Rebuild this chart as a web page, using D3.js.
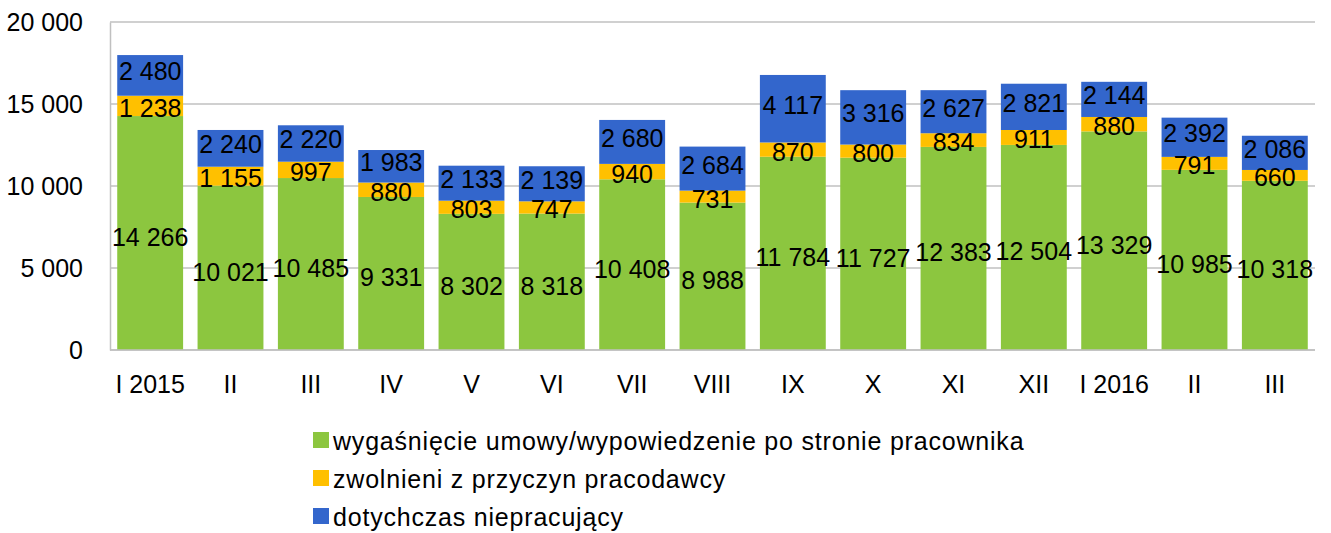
<!DOCTYPE html>
<html>
<head>
<meta charset="utf-8">
<script src="https://cdn.jsdelivr.net/npm/d3@7"></script>
<style>
  html, body { margin: 0; padding: 0; background: #fff; }
  svg { display: block; font-family: "Liberation Sans", Arial, sans-serif; }
</style>
</head>
<body>
<svg id="chart" width="1331" height="533"></svg>
<script>
const categories = ["I 2015", "II", "III", "IV", "V", "VI", "VII", "VIII", "IX", "X", "XI", "XII", "I 2016", "II", "III"];
const wygasniecie = [14266, 10021, 10485, 9331, 8302, 8318, 10408, 8988, 11784, 11727, 12383, 12504, 13329, 10985, 10318];
const zwolnieni = [1238, 1155, 997, 880, 803, 747, 940, 731, 870, 800, 834, 911, 880, 791, 660];
const dotychczas = [2480, 2240, 2220, 1983, 2133, 2139, 2680, 2684, 4117, 3316, 2627, 2821, 2144, 2392, 2086];
const yTicks = [0, 5000, 10000, 15000, 20000];
const seriesNames = ["wygaśnięcie umowy/wypowiedzenie po stronie pracownika", "zwolnieni z przyczyn pracodawcy", "dotychczas niepracujący"];
const seriesColors = ["#8cc63f", "#ffc000", "#3366cc"];

const svg = d3.select("#chart");
const mLeft = 110, mRight = 1315, mTop = 22, mBottom = 350;
const FS = 25;
const labelShift = [4, 2, -4];

const fmt = v => d3.format(",")(v).replace(/,/g, " ");

const x = d3.scaleBand().domain(d3.range(categories.length)).range([mLeft, mRight]).paddingInner(0.18).paddingOuter(0.09);
const y = d3.scaleLinear().domain([0, 20000]).range([mBottom, mTop]);

// gridlines
svg.append("g").selectAll("line").data(yTicks).join("line")
  .attr("x1", mLeft).attr("x2", mRight)
  .attr("y1", d => y(d)).attr("y2", d => y(d))
  .attr("stroke", "#c0c0c0").attr("stroke-width", 1.5);

// y axis
const yAxis = svg.append("g").attr("transform", `translate(${mLeft},0)`)
  .call(d3.axisLeft(y).tickValues(yTicks).tickFormat(fmt).tickSize(0).tickPadding(27));
yAxis.select(".domain").attr("stroke", "#c0c0c0").attr("stroke-width", 1.5);
yAxis.selectAll("text").attr("font-size", FS).attr("fill", "#000").attr("font-family", "Liberation Sans, Arial, sans-serif");

// stacked data
const rows = categories.map((c, i) => ({ i, a: wygasniecie[i], b: zwolnieni[i], c: dotychczas[i] }));
const stack = d3.stack().keys(["a", "b", "c"])(rows);

const gBars = svg.append("g");
stack.forEach((layer, k) => {
  gBars.append("g").attr("fill", seriesColors[k]).selectAll("rect").data(layer).join("rect")
    .attr("x", d => x(d.data.i))
    .attr("width", x.bandwidth())
    .attr("y", d => y(d[1]))
    .attr("height", d => y(d[0]) - y(d[1]));
});

// baseline
svg.append("line").attr("x1", mLeft).attr("x2", mRight).attr("y1", mBottom).attr("y2", mBottom)
  .attr("stroke", "#c0c0c0").attr("stroke-width", 1.5);

// value labels
const gLab = svg.append("g");
stack.forEach((layer, k) => {
  gLab.append("g").selectAll("text").data(layer).join("text")
    .attr("x", d => x(d.data.i) + x.bandwidth() / 2)
    .attr("y", d => (y(d[0]) + y(d[1])) / 2 + labelShift[k])
    .attr("dy", "0.36em")
    .attr("text-anchor", "middle")
    .attr("font-size", FS)
    .attr("fill", "#000")
    .text(d => fmt(d[1] - d[0]));
});

// x axis labels
const xAxis = svg.append("g").attr("transform", `translate(0,${mBottom})`)
  .call(d3.axisBottom(x).tickFormat(i => categories[i]).tickSize(0).tickPadding(25));
xAxis.select(".domain").remove();
xAxis.selectAll("text").attr("font-size", FS).attr("fill", "#000").attr("font-family", "Liberation Sans, Arial, sans-serif");

// legend
const legend = svg.append("g").attr("transform", "translate(313,432)");
seriesNames.forEach((name, k) => {
  const g = legend.append("g").attr("transform", `translate(0,${k * 38})`);
  g.append("rect").attr("width", 16).attr("height", 16).attr("fill", seriesColors[k]);
  g.append("text").attr("x", 20).attr("y", 9).attr("dy", "0.36em")
    .attr("font-size", FS).attr("letter-spacing", 0.8).attr("fill", "#000").text(name);
});
</script>
</body>
</html>
